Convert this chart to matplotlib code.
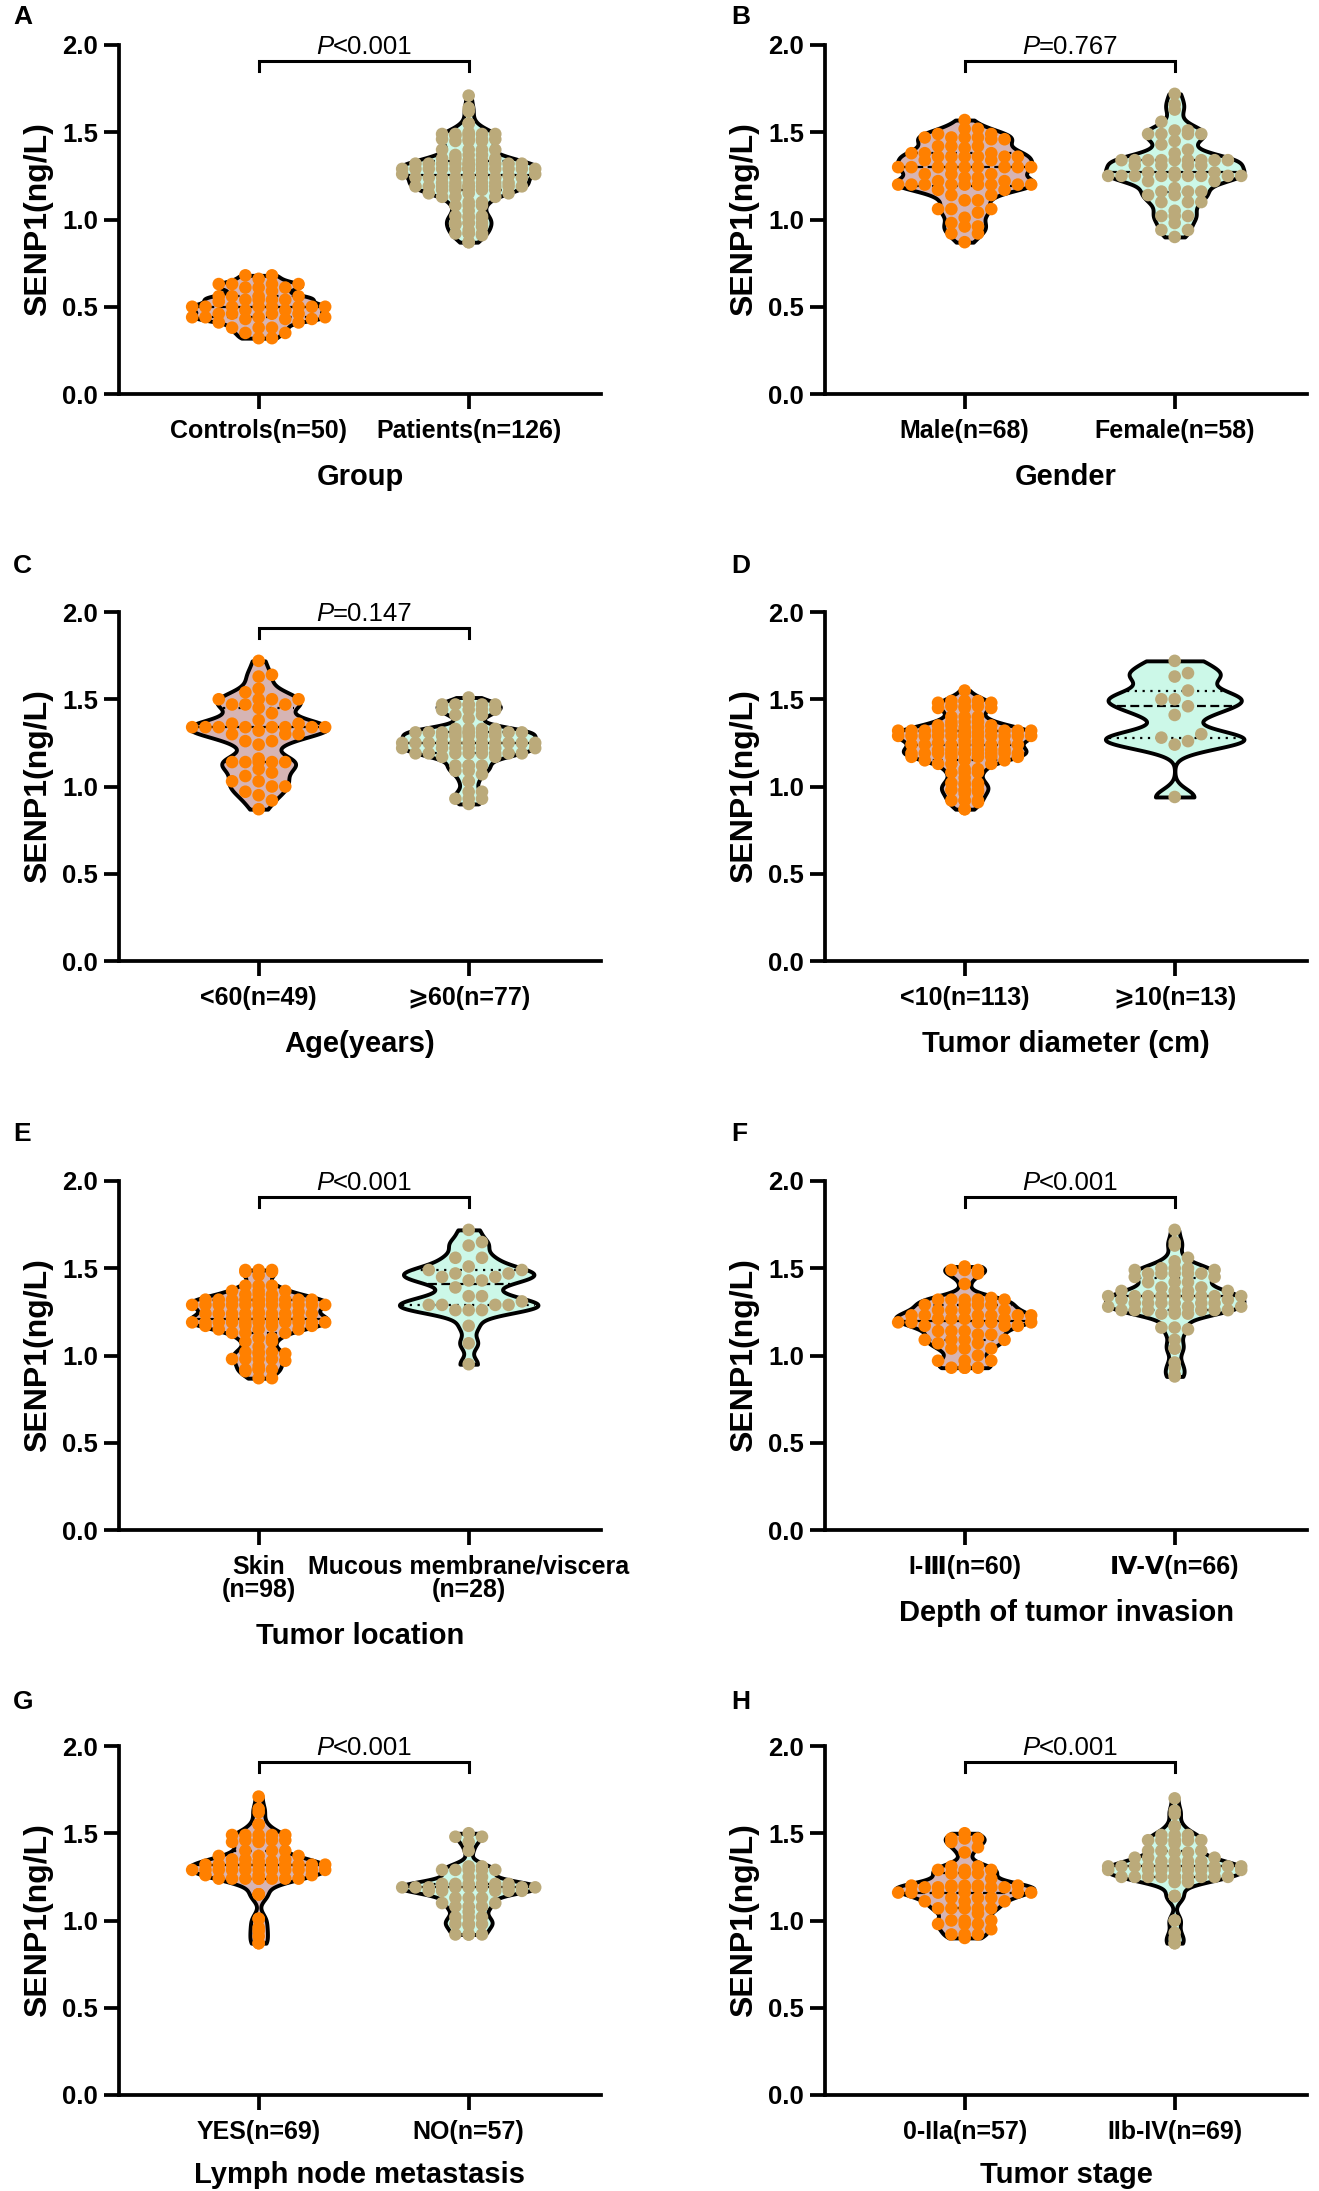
import numpy as np
import matplotlib
matplotlib.use("Agg")
import matplotlib.pyplot as plt
from matplotlib import cbook, mlab

plt.rcParams['font.family'] = ['Liberation Sans', 'DejaVu Sans', 'Noto Sans CJK SC']
plt.rcParams['font.weight'] = 'bold'

#### Datos (SENP1, ng/L)

controls = [0.68, 0.68, 0.66, 0.63, 0.63, 0.63, 0.63, 0.61, 0.61, 0.61,
            0.59, 0.56, 0.56, 0.56, 0.56, 0.54, 0.54, 0.54, 0.54, 0.53,
            0.50, 0.50, 0.50, 0.50, 0.50, 0.50, 0.50, 0.50, 0.48, 0.48,
            0.46, 0.46, 0.46, 0.46, 0.44, 0.44, 0.44, 0.44, 0.43, 0.43,
            0.43, 0.41, 0.41, 0.38, 0.38, 0.38, 0.35, 0.35, 0.32, 0.32]

male = [1.57, 1.52, 1.52, 1.49, 1.49, 1.47, 1.47, 1.47, 1.47, 1.46, 1.46,
        1.42, 1.42, 1.42, 1.41, 1.38, 1.38, 1.38,
        1.36, 1.36, 1.36, 1.36, 1.36, 1.36, 1.34, 1.34,
        1.30, 1.30, 1.30, 1.30, 1.30, 1.30, 1.30, 1.30, 1.30,
        1.26, 1.26, 1.26, 1.24, 1.24, 1.22, 1.22,
        1.20, 1.20, 1.20, 1.20, 1.20, 1.20, 1.20, 1.20, 1.20,
        1.17, 1.17, 1.14, 1.14, 1.11, 1.11, 1.06, 1.06, 1.06,
        1.04, 1.01, 0.98, 0.96, 0.96, 0.92, 0.92, 0.87]

female = [1.72, 1.66, 1.63, 1.56, 1.51, 1.51, 1.49, 1.49, 1.49, 1.49,
          1.45, 1.43, 1.40, 1.38,
          1.34, 1.34, 1.34, 1.34, 1.34, 1.34, 1.34, 1.34, 1.34,
          1.31, 1.31, 1.31, 1.31, 1.27, 1.27, 1.27,
          1.25, 1.25, 1.25, 1.25, 1.25, 1.25, 1.25, 1.25, 1.25,
          1.22, 1.22, 1.18, 1.16, 1.16, 1.16, 1.14, 1.14,
          1.10, 1.10, 1.10, 1.05, 1.02, 1.02, 1.02, 0.98, 0.94, 0.94, 0.90]

age_lt60 = [1.72, 1.64, 1.63, 1.56, 1.54, 1.50, 1.50, 1.50, 1.50,
            1.47, 1.47, 1.47, 1.45, 1.42, 1.38, 1.36, 1.36,
            1.34, 1.34, 1.34, 1.34, 1.34, 1.34, 1.34, 1.34,
            1.32, 1.30, 1.30, 1.30, 1.26, 1.26, 1.24,
            1.16, 1.14, 1.14, 1.14, 1.14, 1.14,
            1.10, 1.08, 1.06, 1.03, 1.03, 1.00, 1.00, 0.97, 0.95, 0.92, 0.87]

age_ge60 = [1.51, 1.47, 1.47, 1.47, 1.47, 1.47, 1.47, 1.44, 1.44, 1.44, 1.44,
            1.41, 1.41, 1.39, 1.33, 1.33, 1.33, 1.33,
            1.31, 1.31, 1.31, 1.31, 1.31, 1.31, 1.31, 1.31, 1.31, 1.31,
            1.29, 1.29, 1.29, 1.29, 1.29,
            1.25, 1.25, 1.25, 1.25, 1.25, 1.25, 1.25, 1.25, 1.25, 1.25, 1.25, 1.25,
            1.22, 1.22, 1.22, 1.22, 1.22, 1.22, 1.22,
            1.19, 1.19, 1.19, 1.19, 1.19, 1.19, 1.19, 1.19, 1.17, 1.17,
            1.12, 1.12, 1.12, 1.12, 1.09, 1.09, 1.07, 1.03, 1.03,
            0.97, 0.97, 0.93, 0.93, 0.93, 0.90]

diam_ge10 = [1.72, 1.65, 1.63, 1.55, 1.50, 1.50, 1.46, 1.41, 1.30, 1.28, 1.26, 1.24, 0.94]

mucous = [1.72, 1.65, 1.63, 1.56, 1.56, 1.51, 1.49, 1.49, 1.47, 1.47, 1.45, 1.45,
          1.43, 1.43, 1.39, 1.34, 1.34, 1.31, 1.29, 1.29, 1.29, 1.29,
          1.26, 1.26, 1.26, 1.17, 1.07, 0.95]

depth_1_3 = [1.51, 1.49, 1.49, 1.49, 1.47, 1.41,
             1.33, 1.32, 1.32, 1.32, 1.32, 1.32, 1.29, 1.29, 1.29, 1.29,
             1.26, 1.26, 1.26, 1.26, 1.23, 1.23, 1.23, 1.23, 1.23, 1.23,
             1.21, 1.21, 1.21, 1.21, 1.19, 1.19, 1.19, 1.19, 1.19,
             1.17, 1.17, 1.17, 1.14, 1.14, 1.14, 1.12, 1.12,
             1.09, 1.09, 1.09, 1.09, 1.07, 1.07, 1.04, 1.04, 1.04, 1.00,
             0.97, 0.97, 0.97, 0.93, 0.93, 0.93, 0.93]

depth_4_5 = [1.72, 1.65, 1.63, 1.56, 1.54, 1.50, 1.50, 1.50, 1.49, 1.49,
             1.47, 1.47, 1.47, 1.47, 1.47, 1.45, 1.45, 1.42, 1.42, 1.42,
             1.39, 1.39, 1.37, 1.37, 1.37, 1.37,
             1.34, 1.34, 1.34, 1.34, 1.34, 1.34, 1.34, 1.34, 1.34, 1.32, 1.32,
             1.30, 1.30, 1.30, 1.30, 1.30, 1.30, 1.28, 1.28, 1.28,
             1.26, 1.26, 1.26, 1.26, 1.26, 1.26, 1.26, 1.24, 1.24, 1.24,
             1.16, 1.16, 1.15, 1.09, 1.04, 1.04, 0.96, 0.93, 0.89, 0.88]

lymph_yes = [1.71, 1.64, 1.62, 1.55, 1.55, 1.49, 1.49, 1.49, 1.49, 1.49,
             1.46, 1.46, 1.46, 1.46, 1.45, 1.45, 1.40, 1.40, 1.40,
             1.37, 1.37, 1.37, 1.35, 1.35, 1.35, 1.34, 1.34,
             1.32, 1.32, 1.32, 1.32, 1.32, 1.32, 1.32, 1.32, 1.32, 1.32,
             1.29, 1.29, 1.29, 1.29, 1.29, 1.29, 1.29, 1.29, 1.29, 1.29, 1.29,
             1.26, 1.26, 1.26, 1.24, 1.24, 1.24, 1.24, 1.24, 1.24, 1.24, 1.24,
             1.15, 1.15, 1.15, 1.01, 1.01, 0.96, 0.94, 0.91, 0.87, 0.87]

lymph_no = [1.50, 1.48, 1.48, 1.45, 1.40, 1.31, 1.31,
            1.29, 1.29, 1.29, 1.29, 1.29, 1.25, 1.25,
            1.21, 1.21, 1.21, 1.21, 1.21, 1.21,
            1.19, 1.19, 1.19, 1.19, 1.19, 1.19, 1.19, 1.19, 1.19, 1.19, 1.19,
            1.17, 1.17, 1.17, 1.17, 1.17, 1.13, 1.13, 1.13, 1.10, 1.10,
            1.08, 1.08, 1.08, 1.05, 1.02, 1.02, 1.02,
            0.98, 0.98, 0.98, 0.98, 0.97, 0.92, 0.92, 0.92, 0.92]

stage_early = [1.50, 1.47, 1.47, 1.47, 1.45, 1.42, 1.39, 1.31, 1.31,
               1.29, 1.29, 1.29, 1.27, 1.27, 1.27, 1.24,
               1.20, 1.20, 1.20, 1.20, 1.20, 1.19, 1.19, 1.19, 1.19, 1.19, 1.19, 1.19,
               1.16, 1.16, 1.16, 1.16, 1.16, 1.16, 1.13, 1.13, 1.13, 1.11, 1.11, 1.11,
               1.07, 1.07, 1.07, 1.07, 1.07, 1.04, 1.00, 1.00, 1.00,
               0.98, 0.98, 0.98, 0.95, 0.92, 0.92, 0.92, 0.90]

stage_late = [1.70, 1.63, 1.61, 1.54, 1.54, 1.49, 1.49, 1.49,
              1.46, 1.46, 1.46, 1.46, 1.46, 1.46, 1.44, 1.40, 1.40, 1.40, 1.39, 1.39,
              1.36, 1.36, 1.36, 1.34, 1.34, 1.34, 1.34,
              1.31, 1.31, 1.31, 1.31, 1.31, 1.31, 1.31, 1.31, 1.31, 1.31, 1.31,
              1.29, 1.29, 1.29, 1.29, 1.29, 1.29, 1.29, 1.29,
              1.25, 1.25, 1.25, 1.25, 1.25, 1.25, 1.25, 1.25, 1.25, 1.25, 1.25, 1.25,
              1.22, 1.22, 1.14, 1.14, 1.14, 1.00, 1.00, 0.93, 0.90, 0.87, 0.87]


def remove_from(pool, sub):
    # los subgrupos salen del mismo conjunto de pacientes
    rest = list(pool)
    for v in sub:
        j = min(range(len(rest)), key=lambda i: abs(rest[i] - v))
        rest.pop(j)
    return rest


patients = lymph_yes + lymph_no
diam_lt10 = remove_from(patients, diam_ge10)
skin = remove_from(patients, mucous)

panels = [
    ("A", controls, patients, ["Controls(n=50)", "Patients(n=126)"], "Group", "<0.001"),
    ("B", male, female, ["Male(n=68)", "Female(n=58)"], "Gender", "=0.767"),
    ("C", age_lt60, age_ge60, ["<60(n=49)", "⩾60(n=77)"], "Age(years)", "=0.147"),
    ("D", diam_lt10, diam_ge10, ["<10(n=113)", "⩾10(n=13)"], "Tumor diameter (cm)", None),
    ("E", skin, mucous, ["Skin\n(n=98)", "Mucous membrane/viscera\n(n=28)"], "Tumor location", "<0.001"),
    ("F", depth_1_3, depth_4_5, ["I-Ⅲ(n=60)", "Ⅳ-Ⅴ(n=66)"], "Depth of tumor invasion", "<0.001"),
    ("G", lymph_yes, lymph_no, ["YES(n=69)", "NO(n=57)"], "Lymph node metastasis", "<0.001"),
    ("H", stage_early, stage_late, ["0-IIa(n=57)", "IIb-IV(n=69)"], "Tumor stage", "<0.001"),
]

#### Geometría (pixeles)
W, H = 1319, 2191
col_x = [119, 825]
row_base = [394, 961, 1530, 2095]
AX_W, AX_H = 482, 349
letter_x = [13, 731]
letter_y = [17, 566, 1134, 1702]
xlab_y = [-0.238, -0.238, -0.238, -0.228]
XMIN, XMAX = -0.665, 1.63
PX_X = AX_W / (XMAX - XMIN)
PX_Y = AX_H / 2.0

fill_cols = ["#D6B4B4", "#CCF8E8"]
dot_cols = ["#FF8000", "#BBAA7A"]
VW = 0.66
BW = 0.22


def kde(X, coords):
    return mlab.GaussianKDE(np.asarray(X), BW).evaluate(coords)


def swarm(vals, coords, dens, step=13.3, dmin=11.0):
    # puntos en columnas, sin salirse del ancho del violín
    vals = np.asarray(vals)
    xs = np.zeros(len(vals))
    placed = []
    for i in np.argsort(vals):
        y = vals[i] * PX_Y
        hw = 0.5 * VW * np.interp(vals[i], coords, dens) / dens.max() * PX_X
        kmax = max(0, int((hw + 3) // step))
        ks = [0]
        for k in range(1, kmax + 1):
            ks += [k, -k]
        best, best_d = 0, -1
        for k in ks:
            x = k * step
            d = min([np.hypot(x - px, y - py) for px, py in placed] + [1e9])
            if d >= dmin:
                best = k
                break
            if d > best_d:
                best, best_d = k, d
        placed.append((best * step, y))
        xs[i] = best * step / PX_X
    return xs


fig = plt.figure(figsize=(W / 100, H / 100), dpi=100)

for n, (letter, g1, g2, ticks, xlab, ptxt) in enumerate(panels):
    r, c = divmod(n, 2)
    ax = fig.add_axes([col_x[c] / W, 1 - row_base[r] / H, AX_W / W, AX_H / H])
    fig.text(letter_x[c] / W, 1 - letter_y[r] / H, letter, fontsize=19,
             weight='bold', ha='left', va='center')

    stats = cbook.violin_stats([g1, g2], kde, points=200)
    parts = ax.violin(stats, positions=[0, 1], widths=VW,
                      showmeans=False, showextrema=False, showmedians=False)
    for body, fc in zip(parts['bodies'], fill_cols):
        body.set_facecolor(fc)
        body.set_edgecolor('black')
        body.set_linewidth(2.8)
        body.set_alpha(1)
        body.set_zorder(1)

    for pos, (g, st) in enumerate(zip([g1, g2], stats)):
        coords = np.asarray(st['coords'])
        dens = np.asarray(st['vals'])
        q1, med, q3 = np.percentile(g, [25, 50, 75])
        for q, ls in [(q1, (0, (1, 2.5))), (med, (0, (4, 2))), (q3, (0, (1, 2.5)))]:
            hw = 0.5 * VW * np.interp(q, coords, dens) / dens.max() - 0.012
            ax.plot([pos - hw, pos + hw], [q, q], color='black', lw=1.6,
                    ls=ls, zorder=2)
        ax.scatter(pos + swarm(g, coords, dens), g, s=82, color=dot_cols[pos],
                   edgecolors='none', zorder=3)

    if ptxt:
        ax.plot([0, 0, 1, 1], [1.85, 1.91, 1.91, 1.85], color='black', lw=2.2,
                clip_on=False, solid_joinstyle='miter')
        ax.text(0.5 - 0.145, 1.99, "P", ha='right', va='center', fontsize=18.5,
                fontweight='normal', fontstyle='italic', clip_on=False)
        ax.text(0.5 - 0.145, 1.99, ptxt, ha='left', va='center', fontsize=18.5,
                fontweight='normal', clip_on=False)

    ax.set_xlim(XMIN, XMAX)
    ax.set_ylim(0, 2.0)
    ax.spines['top'].set_visible(False)
    ax.spines['right'].set_visible(False)
    ax.spines['left'].set_linewidth(2.7)
    ax.spines['bottom'].set_linewidth(2.7)
    ax.spines['left'].set_bounds(0, 2.0)
    ax.set_yticks([0, 0.5, 1.0, 1.5, 2.0])
    ax.set_yticklabels(["0.0", "0.5", "1.0", "1.5", "2.0"], fontsize=18.5, weight='bold')
    ax.set_xticks([0, 1])
    ax.set_xticklabels(ticks, linespacing=0.95, fontsize=18, weight='bold')
    ax.tick_params(axis='both', width=2.7, length=11, direction='out')
    ax.tick_params(axis='y', pad=4)
    ax.tick_params(axis='x', pad=7)

    ax.set_ylabel("SENP1(ng/L)", fontsize=23, weight='bold', va='center')
    ax.yaxis.set_label_coords(-0.167, 0.5)
    ax.set_xlabel(xlab, fontsize=21, weight='bold', va='center')
    ax.xaxis.set_label_coords(0.5, -0.305 if letter == "E" else xlab_y[r])

fig.savefig("out.png", dpi=100)
